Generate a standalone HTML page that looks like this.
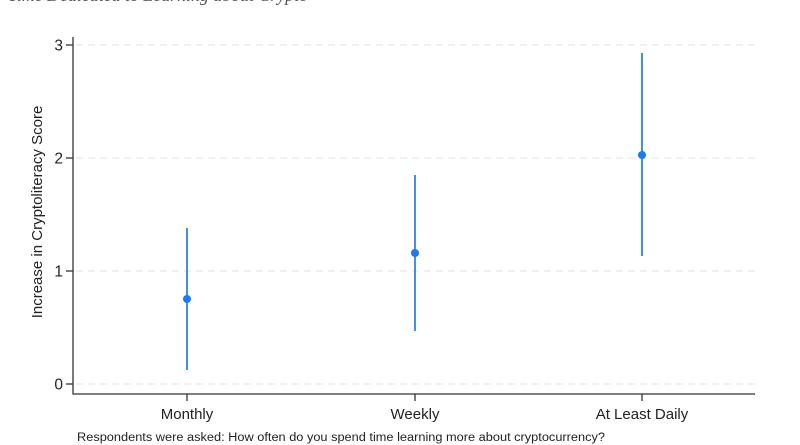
<!DOCTYPE html>
<html><head><meta charset="utf-8"><style>
html,body{margin:0;padding:0;background:#fff;}
svg{display:block;}
</style></head><body>
<svg width="800" height="445" viewBox="0 0 800 445" xmlns="http://www.w3.org/2000/svg">
<rect width="800" height="445" fill="#fff"/>
<text x="8" y="1" font-family="Liberation Serif, serif" font-style="italic" font-size="18" fill="#555" textLength="300" lengthAdjust="spacingAndGlyphs">Time Dedicated to Learning about Crypto</text>
<g stroke="#e6e6e6" stroke-width="1.2" stroke-dasharray="7,5">
<line x1="76" y1="45" x2="755" y2="45"/>
<line x1="76" y1="158" x2="755" y2="158"/>
<line x1="76" y1="271" x2="755" y2="271"/>
<line x1="76" y1="384" x2="755" y2="384"/>
</g>
<g stroke="#333" stroke-width="1.3">
<line x1="73" y1="37" x2="73" y2="394.5"/>
<line x1="73" y1="394" x2="755" y2="394"/>
<line x1="66" y1="45" x2="73" y2="45"/>
<line x1="66" y1="158" x2="73" y2="158"/>
<line x1="66" y1="271" x2="73" y2="271"/>
<line x1="66" y1="384" x2="73" y2="384"/>
<line x1="187" y1="394" x2="187" y2="401"/>
<line x1="415" y1="394" x2="415" y2="401"/>
<line x1="642" y1="394" x2="642" y2="401"/>
</g>
<g font-family="Liberation Sans, Arial, sans-serif" font-size="15.5" fill="#222" text-anchor="end">
<text x="63" y="50.5">3</text>
<text x="63" y="163.5">2</text>
<text x="63" y="276.5">1</text>
<text x="63" y="389.5">0</text>
</g>
<g font-family="Liberation Sans, Arial, sans-serif" font-size="15" fill="#222" text-anchor="middle">
<text x="187" y="419">Monthly</text>
<text x="415" y="419">Weekly</text>
<text x="642" y="419">At Least Daily</text>
</g>
<text transform="translate(42,212) rotate(-90)" font-family="Liberation Sans, Arial, sans-serif" font-size="15" fill="#222" text-anchor="middle">Increase in Cryptoliteracy Score</text>
<text x="77" y="441" font-family="Liberation Sans, Arial, sans-serif" font-size="11.5" fill="#222" textLength="528" lengthAdjust="spacingAndGlyphs">Respondents were asked: How often do you spend time learning more about cryptocurrency?</text>
<g stroke="#4090e6" stroke-width="2">
<line x1="187" y1="228" x2="187" y2="370"/>
<line x1="415" y1="175" x2="415" y2="331"/>
<line x1="642" y1="53" x2="642" y2="256"/>
</g>
<g fill="#1f78f0">
<circle cx="187" cy="299" r="4"/>
<circle cx="415" cy="253" r="4"/>
<circle cx="642" cy="155" r="4"/>
</g>
</svg>
</body></html>
